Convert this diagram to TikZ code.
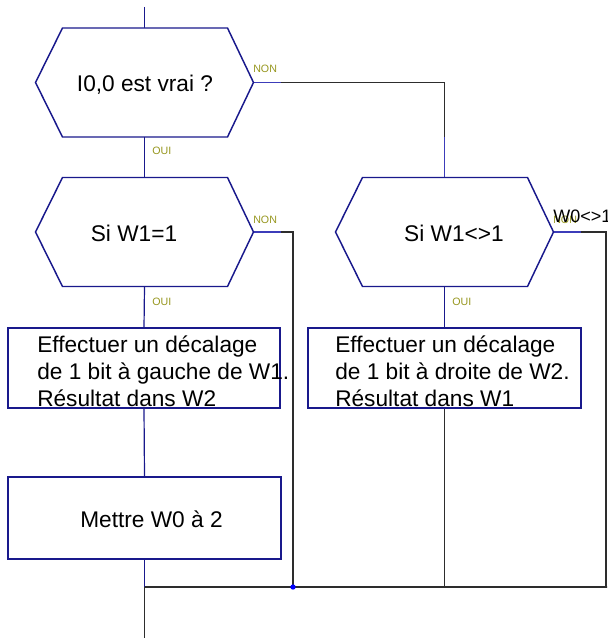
\documentclass[tikz,border=0pt]{standalone}
\usepackage{fontspec}
\setmainfont{Liberation Sans}
\usetikzlibrary{calc}
\definecolor{navy}{RGB}{25,25,140}
\definecolor{stub}{RGB}{60,60,185}
\definecolor{olivelab}{RGB}{150,150,30}
\definecolor{wirec}{RGB}{45,45,45}
\begin{document}
\begin{tikzpicture}[x=0.75pt,y=-0.75pt,
  hexnode/.style={inner sep=0pt, outer sep=0pt, minimum width=163.5pt, minimum height=81.75pt},
  hexline/.style={draw=navy, line width=1.1pt, fill=white},
  boxnode/.style={draw=navy, line width=0.8pt, fill=white, inner sep=0pt, outer sep=0pt, minimum width=204pt, minimum height=60pt},
  maintext/.style={font=\fontsize{17}{20.25}\selectfont, inner sep=0pt, text=black},
  lab/.style={font=\fontsize{8}{9}\selectfont, text=olivelab, inner sep=0pt, anchor=base west},
  wire/.style={draw=wirec, line width=0.8pt},
  navyline/.style={draw=navy, line width=0.9pt},
  stubline/.style={draw=stub, line width=0.9pt}]
\useasboundingbox (0,0) rectangle (607,638);
\clip (0,0) rectangle (607,638);

% invisible frames of the shapes
\node[hexnode] (q1) at (144.5,82.5) {};
\node[hexnode] (q2) at (144.5,232) {};
\node[hexnode] (q3) at (444.5,232) {};
\node[boxnode, draw=none, fill=none] (b1) at (144,368) {};
\node[boxnode, draw=none, fill=none, minimum width=204.75pt] (b2) at (444.5,368) {};
\node[boxnode, draw=none, fill=none, minimum width=204.75pt, minimum height=61.5pt] (b3) at (144.5,518) {};

\coordinate (start) at (144.5,7);
\coordinate (j1) at (144.5,587);
\coordinate (endp) at (144.5,640);
\coordinate (dot) at (293,587);
\coordinate (j3) at (444.5,587);
\coordinate (j4) at (606,587);
\coordinate (jr) at (610,587);

% connectors
\draw[navyline] (start) -- (q1.north);
\draw[navyline] (q1.south) -- (q2.north);
\draw[navyline] (q2.south) -- (b1.north);
\draw[navyline] (b1.south) -- (b3.north);
\draw[navyline] (b3.south) -- (j1);
\draw[wire] (j1) -- (endp);
\draw[wire] (q1.east) -| (q3.north);
\draw[stubline] (q1.east) -- ++(27,0);
\draw[stubline] (q3.north) -- ++(0,-40);
\draw[wire] (q2.east) -| (dot);
\draw[stubline] (q2.east) -- ++(27,0);
\draw[navyline] (q3.south) -- (b2.north);
\draw[wire] (b2.south) -- (j3);
\draw[wire] (q3.east) -| (j4);
\draw[stubline] (q3.east) -- ++(27,0);
\draw[wire] (j1) -- (jr);
\fill[blue] (dot) circle[radius=2pt];

% hexagons
\foreach \h in {q1,q2,q3}{
  \draw[hexline] (\h.west) -- ($(\h.north west)+(27,0)$) -- ($(\h.north east)+(-26,0)$) -- (\h.east)
    -- ($(\h.south east)+(-26,0)$) -- ($(\h.south west)+(27,0)$) -- cycle;
}
% boxes
\draw[navy, line width=0.8pt, fill=white] (b1.north west) rectangle (b1.south east);
\draw[navy, line width=0.8pt, fill=white] (b2.north west) rectangle (b2.south east);
\draw[navy, line width=0.8pt, fill=white] (b3.north west) rectangle (b3.south east);

% texts
\node[maintext, anchor=base] (t1) at (145,92) {I0,0 est vrai ?};
\node[maintext, anchor=base] (t2) at (134,241) {Si W1=1};
\node[maintext, anchor=base] (t3) at (454,241) {Si W1<>1};
\node[maintext, anchor=north west, align=left] (t4) at (37,335.5) {Effectuer un décalage\\de 1 bit à gauche de W1.\\Résultat dans W2};
\node[maintext, anchor=north west, align=left] (t5) at (335,335.5) {Effectuer un décalage\\de 1 bit à droite de W2.\\Résultat dans W1};
\node[maintext, anchor=base] (t6) at (151.5,527) {Mettre W0 à 2};

% labels
\node[lab] (l1) at (253,73) {NON};
\node[lab] (l2) at (152,155) {OUI};
\node[lab] (l3) at (253,223) {NON};
\node[lab] (l4) at (152,305) {OUI};
\node[lab] (l5) at (452,305) {OUI};
\node[lab] (l6) at (553,223) {NON};
\node[anchor=base west, inner sep=0pt, font=\fontsize{13.5}{15}\selectfont, text=black] (l7) at (553,222) {W0<>1};
\end{tikzpicture}
\end{document}
